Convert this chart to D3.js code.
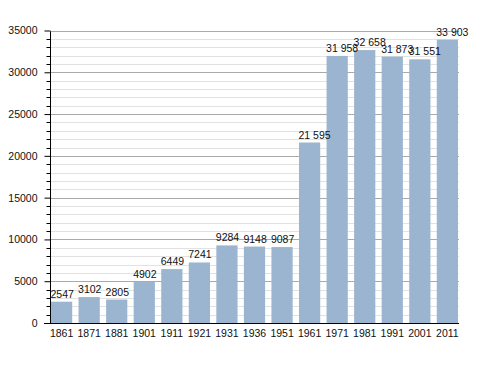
<!DOCTYPE html>
<html><head><meta charset="utf-8">
<script src="https://cdn.jsdelivr.net/npm/d3@7"></script>
<style>
html,body{margin:0;padding:0;background:#fff;}
svg{display:block;font-family:"Liberation Sans",Arial,sans-serif;}
</style></head>
<body>
<script>
const years = ["1861","1871","1881","1901","1911","1921","1931","1936","1951","1961","1971","1981","1991","2001","2011"];
const population = [2547,3102,2805,4902,6449,7241,9284,9148,9087,21595,31958,32658,31873,31551,33903];
const yTicks = [0,5000,10000,15000,20000,25000,30000,35000];

const W = 488, H = 373;
const svg = d3.select("body").append("svg").attr("width", W).attr("height", H);

const x = d3.scaleBand().domain(years).range([51, 458]).paddingInner(0.23).paddingOuter(0);
const y = d3.scaleLinear().domain([0, 35000]).range([323, 30.5]);

const minor = d3.range(0, 35001, 1000).filter(v => v % 5000 !== 0);

// minor gridlines
svg.append("g").selectAll("line").data(minor).join("line")
  .attr("x1", 50).attr("x2", 459)
  .attr("y1", d => Math.round(y(d)) + 0.5).attr("y2", d => Math.round(y(d)) + 0.5)
  .attr("stroke", "#e2e2e2").attr("stroke-width", 1);
// major gridlines
svg.append("g").selectAll("line").data(yTicks.filter(d => d > 0)).join("line")
  .attr("x1", 50).attr("x2", 459)
  .attr("y1", d => Math.round(y(d)) + 0.5).attr("y2", d => Math.round(y(d)) + 0.5)
  .attr("stroke", "#a9a9a9").attr("stroke-width", 1);

// bars
svg.append("g").selectAll("rect").data(population).join("rect")
  .attr("x", (d, i) => x(years[i]))
  .attr("y", d => y(d))
  .attr("width", x.bandwidth())
  .attr("height", d => y(0) - y(d))
  .attr("fill", "#9bb4cf");

// value labels
const fmt = d => d >= 10000 ? d3.format(",")(d).replace(/,/g, " ") : String(d);
svg.append("g").selectAll("text").data(population).join("text")
  .attr("x", (d, i) => x(years[i]) - 0.5)
  .attr("y", d => y(d) - 4)
  .attr("font-size", 10.5)
  .attr("fill", "#111")
  .text(fmt);

// y axis
const yAxisG = svg.append("g").attr("transform", "translate(50.5,0)");
yAxisG.append("g").selectAll("line").data(minor).join("line")
  .attr("x1", -4).attr("x2", 0)
  .attr("y1", d => Math.round(y(d)) + 0.5).attr("y2", d => Math.round(y(d)) + 0.5)
  .attr("stroke", "#000");
const yAxis = d3.axisLeft(y).tickValues(yTicks).tickSize(6).tickPadding(7).tickFormat(d3.format("d"));
yAxisG.call(yAxis);
yAxisG.select(".domain").attr("d", `M0,${Math.round(y(35000))+0.5}V${Math.round(y(0))+0.5}`);
yAxisG.selectAll(".tick line").attr("stroke", "#000");
yAxisG.selectAll("text").attr("font-size", 10.5).attr("fill", "#111").attr("font-family", "Liberation Sans, Arial, sans-serif");

// x axis
const xAxisG = svg.append("g").attr("transform", `translate(0,${Math.round(y(0))+0.5})`);
const xAxis = d3.axisBottom(x).tickSize(0).tickPadding(6);
xAxisG.call(xAxis);
xAxisG.select(".domain").attr("d", "M44,0H459").attr("stroke", "#000");
xAxisG.selectAll("text").attr("font-size", 10.5).attr("fill", "#111").attr("font-family", "Liberation Sans, Arial, sans-serif");
</script>
</body></html>
